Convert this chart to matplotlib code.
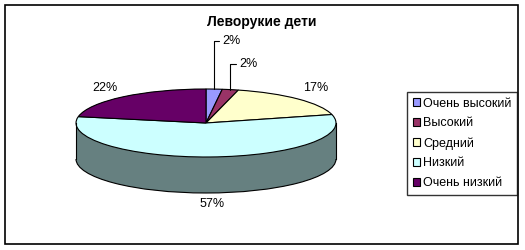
import numpy as np
import matplotlib
matplotlib.use('Agg')
import matplotlib.pyplot as plt
from matplotlib.patches import Arc, Rectangle
from matplotlib.colors import to_rgb

plt.rcParams['font.family'] = ['Liberation Sans', 'DejaVu Sans']

# chart data
title = 'Леворукие дети'
categories = ['Очень высокий', 'Высокий', 'Средний', 'Низкий', 'Очень низкий']
shares = [2, 2, 17, 57, 22]
colors = ['#9999FF', '#993366', '#FFFFCC', '#CCFFFF', '#660066']

# where the % labels sit (pie units: top ellipse radius = 1)
label_pos = [(0.125, 2.41), (0.255, 1.74), (0.84, 1.03), (0.046, -2.38), (-0.78, 1.03)]
leader = [True, True, False, False, False]

depth = 36 / 34  # thickness of the pie, relative to the flattened radius

fig = plt.figure(figsize=(5.25, 2.5), dpi=100)
ax = fig.add_axes([76 / 525, 57 / 250, 260 / 525, 104 / 250])

# side of the pie: stack darker copies going up
side_colors = [tuple(c * 0.5 for c in to_rgb(col)) for col in colors]
for d in np.linspace(depth, 0, 60):
    ax.pie(shares, colors=side_colors, startangle=90, counterclock=False,
           center=(0, -d), wedgeprops=dict(linewidth=0))

# side outline
ax.add_patch(Arc((0, -depth), 2, 2, theta1=180, theta2=360, lw=0.8, color='black'))
ax.plot([-1, -1], [-depth, 0], color='black', lw=0.8)
ax.plot([1, 1], [-depth, 0], color='black', lw=0.8)

# top of the pie
wedges, _ = ax.pie(shares, colors=colors, startangle=90, counterclock=False,
                   wedgeprops=dict(edgecolor='black', linewidth=0.8))

for p in ax.patches + ax.lines:
    p.set_clip_on(False)

ax.set_aspect('auto')
ax.set_xlim(-1, 1)
ax.set_ylim(-1 - depth, 1)
ax.axis('off')

# percentage labels
for i, w in enumerate(wedges):
    a = np.deg2rad((w.theta1 + w.theta2) / 2)
    txt = '{0}%'.format(shares[i])
    if leader[i]:
        ax.annotate(txt, xy=(np.cos(a), np.sin(a)), xytext=label_pos[i],
                    ha='left', va='center', fontsize=9,
                    arrowprops=dict(arrowstyle='-', lw=0.8, color='black',
                                    connectionstyle='angle,angleA=0,angleB=90',
                                    relpos=(0, 0.5), shrinkA=0, shrinkB=0))
    else:
        ax.text(label_pos[i][0], label_pos[i][1], txt, ha='center', va='center', fontsize=9)

fig.text(262 / 525, 1 - 22 / 250, title, ha='center', va='center',
         fontsize=10, fontweight='bold')

leg = fig.legend(wedges, categories, loc='upper left',
                 bbox_to_anchor=(407 / 525, 1 - 92 / 250),
                 frameon=True, fancybox=False, edgecolor='black', fontsize=9,
                 handlelength=0.6, handleheight=0.6, handletextpad=0.25,
                 labelspacing=0.62, borderpad=0.45, borderaxespad=0)
leg.get_frame().set_linewidth(1)

# chart area border
fig.add_artist(Rectangle((5 / 525, 6 / 250), 513 / 525, 239 / 250,
                         transform=fig.transFigure, fill=False, lw=1.2, ec='black'))

fig.savefig('out.png', dpi=100)
